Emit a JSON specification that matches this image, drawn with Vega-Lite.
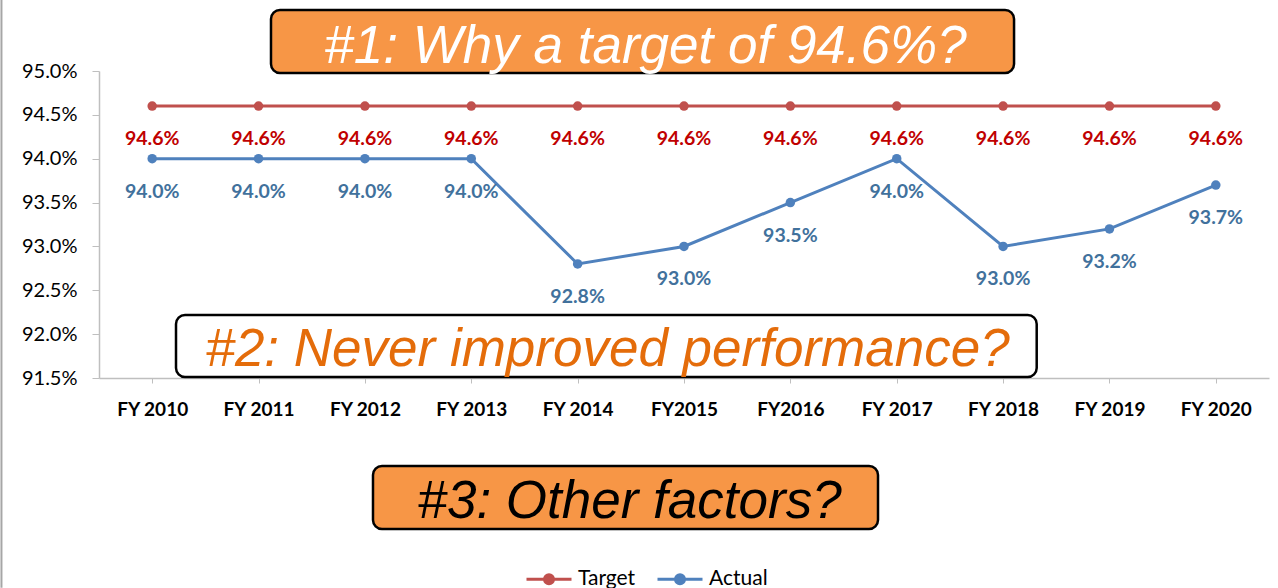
{
  "$schema": "https://vega.github.io/schema/vega-lite/v6.json",
  "width": 1170,
  "height": 307,
  "autosize": {"type": "none"},
  "padding": {"left": 99, "top": 71, "right": 9, "bottom": 210},
  "background": "white",
  "config": {"view": {"stroke": null}, "font": "Lato"},
  "datasets": {
    "series": [
      {"year": "FY 2010", "series": "Target", "value": 0.946},
      {"year": "FY 2011", "series": "Target", "value": 0.946},
      {"year": "FY 2012", "series": "Target", "value": 0.946},
      {"year": "FY 2013", "series": "Target", "value": 0.946},
      {"year": "FY 2014", "series": "Target", "value": 0.946},
      {"year": "FY2015", "series": "Target", "value": 0.946},
      {"year": "FY2016", "series": "Target", "value": 0.946},
      {"year": "FY 2017", "series": "Target", "value": 0.946},
      {"year": "FY 2018", "series": "Target", "value": 0.946},
      {"year": "FY 2019", "series": "Target", "value": 0.946},
      {"year": "FY 2020", "series": "Target", "value": 0.946},
      {"year": "FY 2010", "series": "Actual", "value": 0.940},
      {"year": "FY 2011", "series": "Actual", "value": 0.940},
      {"year": "FY 2012", "series": "Actual", "value": 0.940},
      {"year": "FY 2013", "series": "Actual", "value": 0.940},
      {"year": "FY 2014", "series": "Actual", "value": 0.928},
      {"year": "FY2015", "series": "Actual", "value": 0.930},
      {"year": "FY2016", "series": "Actual", "value": 0.935},
      {"year": "FY 2017", "series": "Actual", "value": 0.940},
      {"year": "FY 2018", "series": "Actual", "value": 0.930},
      {"year": "FY 2019", "series": "Actual", "value": 0.932},
      {"year": "FY 2020", "series": "Actual", "value": 0.937}
    ],
    "notes": [
      {"id": 1, "note": "#1: Why a target of 94.6%?", "x1": 1.617, "x2": 8.603, "y1": 0.95695, "y2": 0.94977, "tx": 5.138, "ty": 0.95091},
      {"id": 2, "note": "#2: Never improved performance?", "x1": 0.724, "x2": 8.816, "y1": 0.92218, "y2": 0.91511, "tx": 4.781, "ty": 0.91637},
      {"id": 3, "note": "#3: Other factors?", "x1": 2.576, "x2": 7.324, "y1": 0.90497, "y2": 0.89778, "tx": 4.988, "ty": 0.89900}
    ],
    "border": [
      {"bx": -0.917, "by1": 0.9581, "by2": 0.8911}
    ]
  },
  "layer": [
    {
      "data": {"name": "series"},
      "encoding": {
        "x": {
          "field": "year", "type": "ordinal", "sort": null,
          "scale": {"type": "point", "padding": 0.5},
          "axis": {
            "title": null, "labelAngle": 0, "labelFont": "Lato", "labelFontWeight": "bold",
            "labelFontSize": 19, "labelColor": "#000000", "tickSize": 5, "labelPadding": 17,
            "domainColor": "#BFBFBF", "tickColor": "#BFBFBF", "domainWidth": 1.5, "grid": false
          }
        },
        "y": {
          "field": "value", "type": "quantitative",
          "scale": {"domain": [0.915, 0.95], "nice": false, "zero": false},
          "axis": {
            "title": null, "values": [0.915, 0.92, 0.925, 0.93, 0.935, 0.94, 0.945, 0.95],
            "format": ".1%", "grid": false, "labelFont": "Lato", "labelFontSize": 20,
            "labelColor": "#000000", "tickSize": 7, "labelPadding": 15,
            "domainColor": "#BFBFBF", "tickColor": "#BFBFBF", "domainWidth": 1.5
          }
        }
      },
      "layer": [
        {
          "mark": {"type": "line", "strokeWidth": 3},
          "encoding": {
            "color": {
              "field": "series", "type": "nominal",
              "scale": {"domain": ["Target", "Actual"], "range": ["#C0504D", "#4F81BD"]},
              "legend": {
                "title": null, "orient": "none", "legendX": 426, "legendY": 484,
                "direction": "horizontal", "padding": 0,
                "symbolType": "M-1,0H1M-0.2,0A0.2,0.2,0,1,0,0.2,0A0.2,0.2,0,1,0,-0.2,0Z",
                "symbolSize": 2025, "symbolStrokeWidth": 3,
                "labelFont": "Lato", "labelFontSize": 21, "labelColor": "#000000",
                "labelOffset": 5, "columnPadding": 15,
                "encode": {
                  "symbols": {
                    "update": {
                      "fill": {"scale": "color", "field": "value"},
                      "stroke": {"scale": "color", "field": "value"},
                      "fillOpacity": {"value": 1},
                      "opacity": {"value": 1}
                    }
                  }
                }
              }
            }
          }
        },
        {
          "mark": {"type": "point", "filled": true, "size": 90, "opacity": 1},
          "encoding": {"color": {"field": "series", "type": "nominal", "legend": null}}
        },
        {
          "transform": [{"filter": "datum.series === 'Target'"}],
          "mark": {"type": "text", "dy": 33, "baseline": "middle", "font": "Lato", "fontWeight": "bold", "fontSize": 19.5, "color": "#C00000"},
          "encoding": {"text": {"field": "value", "type": "quantitative", "format": ".1%"}}
        },
        {
          "transform": [{"filter": "datum.series === 'Actual'"}],
          "mark": {"type": "text", "dy": 33, "baseline": "middle", "font": "Lato", "fontWeight": "bold", "fontSize": 19.5, "color": "#41719C"},
          "encoding": {"text": {"field": "value", "type": "quantitative", "format": ".1%"}}
        }
      ]
    },
    {
      "layer": [
        {
          "data": {"name": "border"},
          "mark": {"type": "rule", "color": "#A6A6A6", "strokeWidth": 2, "clip": false},
          "encoding": {
            "x": {"field": "bx", "type": "quantitative"},
            "y": {"field": "by1", "type": "quantitative"},
            "y2": {"field": "by2"}
          }
        },
        {
          "data": {"name": "notes"},
          "transform": [{"filter": "datum.id === 1"}],
          "layer": [
            {
              "mark": {"type": "rect", "fill": "#F79646", "stroke": "#000000", "strokeWidth": 2.5, "cornerRadius": 9},
              "encoding": {
                "x": {"field": "x1", "type": "quantitative"}, "x2": {"field": "x2"},
                "y": {"field": "y1", "type": "quantitative"}, "y2": {"field": "y2"}
              }
            },
            {
              "mark": {"type": "text", "font": "Liberation Sans", "fontStyle": "italic", "fontSize": 53, "color": "#FFFFFF", "align": "center", "baseline": "alphabetic"},
              "encoding": {
                "x": {"field": "tx", "type": "quantitative"},
                "y": {"field": "ty", "type": "quantitative"},
                "text": {"field": "note"}
              }
            }
          ]
        },
        {
          "data": {"name": "notes"},
          "transform": [{"filter": "datum.id === 2"}],
          "layer": [
            {
              "mark": {"type": "rect", "fill": "#FFFFFF", "stroke": "#000000", "strokeWidth": 2.5, "cornerRadius": 9},
              "encoding": {
                "x": {"field": "x1", "type": "quantitative"}, "x2": {"field": "x2"},
                "y": {"field": "y1", "type": "quantitative"}, "y2": {"field": "y2"}
              }
            },
            {
              "mark": {"type": "text", "font": "Liberation Sans", "fontStyle": "italic", "fontSize": 53, "color": "#E46C0A", "align": "center", "baseline": "alphabetic"},
              "encoding": {
                "x": {"field": "tx", "type": "quantitative"},
                "y": {"field": "ty", "type": "quantitative"},
                "text": {"field": "note"}
              }
            }
          ]
        },
        {
          "data": {"name": "notes"},
          "transform": [{"filter": "datum.id === 3"}],
          "layer": [
            {
              "mark": {"type": "rect", "fill": "#F79646", "stroke": "#000000", "strokeWidth": 2.5, "cornerRadius": 9},
              "encoding": {
                "x": {"field": "x1", "type": "quantitative"}, "x2": {"field": "x2"},
                "y": {"field": "y1", "type": "quantitative"}, "y2": {"field": "y2"}
              }
            },
            {
              "mark": {"type": "text", "font": "Liberation Sans", "fontStyle": "italic", "fontSize": 53, "color": "#000000", "align": "center", "baseline": "alphabetic"},
              "encoding": {
                "x": {"field": "tx", "type": "quantitative"},
                "y": {"field": "ty", "type": "quantitative"},
                "text": {"field": "note"}
              }
            }
          ]
        }
      ],
      "encoding": {
        "x": {"field": "tx", "type": "quantitative", "scale": {"domain": [0, 11], "nice": false, "zero": false}, "axis": null},
        "y": {"field": "ty", "type": "quantitative", "scale": {"domain": [0.915, 0.95], "nice": false, "zero": false}, "axis": null}
      }
    }
  ],
  "resolve": {"scale": {"x": "independent", "y": "independent"}}
}
